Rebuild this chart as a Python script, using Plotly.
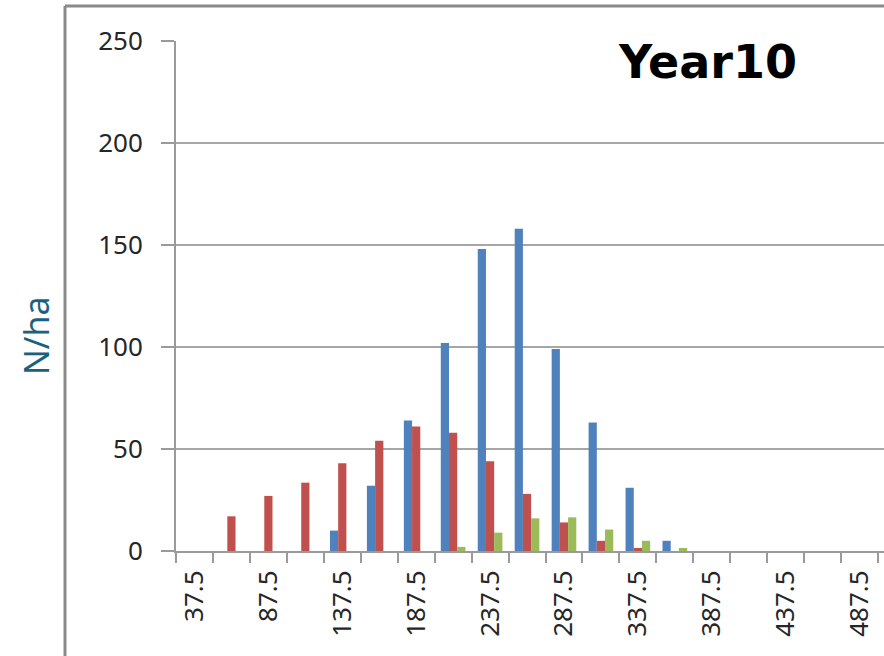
import plotly.graph_objects as go

# Data
categories = [37.5, 62.5, 87.5, 112.5, 137.5, 162.5, 187.5, 212.5, 237.5, 262.5,
              287.5, 312.5, 337.5, 362.5, 387.5, 412.5, 437.5, 462.5, 487.5]
series_blue = [0, 0, 0, 0, 10, 32, 64, 102, 148, 158, 99, 63, 31, 5, 0, 0, 0, 0, 0]
series_red = [0, 17, 27, 33.5, 43, 54, 61, 58, 44, 28, 14, 5, 1.5, 0, 0, 0, 0, 0, 0]
series_green = [0, 0, 0, 0, 0, 0, 0, 2, 9, 16, 16.5, 10.5, 5, 1.5, 0, 0, 0, 0, 0]
tick_labels = [37.5, 87.5, 137.5, 187.5, 237.5, 287.5, 337.5, 387.5, 437.5, 487.5]
bin_width = 25
title_text = "Year10"
y_title = "N/ha"

W, H = 884, 656
L, R, T, B = 176, 0, 41, 105

fig = go.Figure()
for vals, col in [(series_blue, "#4F81BD"), (series_red, "#C0504D"), (series_green, "#9BBB59")]:
    fig.add_trace(go.Bar(x=categories, y=vals, marker=dict(color=col, line=dict(width=0)),
                         showlegend=False))

x0 = categories[0] - bin_width / 2
plot_w = W - L - R
n_vis = plot_w / 36.95
fig.update_layout(
    width=W, height=H,
    margin=dict(l=L, r=R, t=T, b=B),
    paper_bgcolor="white", plot_bgcolor="white",
    barmode="group", bargap=0.333, bargroupgap=0,
    font=dict(family="Noto Sans", color="#262626"),
    xaxis=dict(
        type="linear",
        range=[x0, x0 + n_vis * bin_width],
        tickmode="array",
        tickvals=tick_labels,
        ticktext=[f"{v:.1f}" for v in tick_labels],
        tickangle=-90,
        ticks="",
        ticklabelstandoff=7,
        tickfont=dict(size=26, color="#262626"),
        showgrid=False, zeroline=False,
        showline=True, linecolor="#9a9a9a", linewidth=2,
        minor=dict(tickmode="linear", tick0=x0, dtick=bin_width, ticks="outside",
                   ticklen=10, tickwidth=2, tickcolor="#9a9a9a", showgrid=False),
    ),
    yaxis=dict(
        range=[0, 250],
        tickvals=[0, 50, 100, 150, 200, 250],
        ticks="outside", ticklen=13, tickwidth=2, tickcolor="#9a9a9a",
        ticklabelstandoff=13,
        tickfont=dict(size=26, color="#262626"),
        showgrid=True, gridcolor="#a6a6a6", gridwidth=2,
        zeroline=False,
        showline=True, linecolor="#9a9a9a", linewidth=2,
    ),
)

def px_x(px):
    return (px - L) / plot_w

def px_y(py):
    return (H - B - py) / (H - T - B)

fig.add_annotation(text=f"<b>{title_text}</b>", xref="paper", yref="paper",
                   x=px_x(707), y=px_y(62), xanchor="center", yanchor="middle",
                   showarrow=False, font=dict(family="DejaVu Sans", size=46, color="black"))
fig.add_annotation(text=y_title, xref="paper", yref="paper",
                   x=px_x(36), y=px_y(336), xanchor="center", yanchor="middle",
                   textangle=-90, showarrow=False,
                   font=dict(family="Noto Sans", size=34, color="#1b607f"))

# chart frame
fig.add_shape(type="line", xref="paper", yref="paper", x0=px_x(65), x1=px_x(884),
              y0=px_y(6), y1=px_y(6), line=dict(color="#8a8a8a", width=3), layer="above")
fig.add_shape(type="line", xref="paper", yref="paper", x0=px_x(65), x1=px_x(65),
              y0=px_y(6), y1=px_y(660), line=dict(color="#8a8a8a", width=3), layer="above")

fig.write_html("out.html", config={"displayModeBar": False},
               post_script="document.body.style.margin='0';document.body.style.overflow='hidden';")
